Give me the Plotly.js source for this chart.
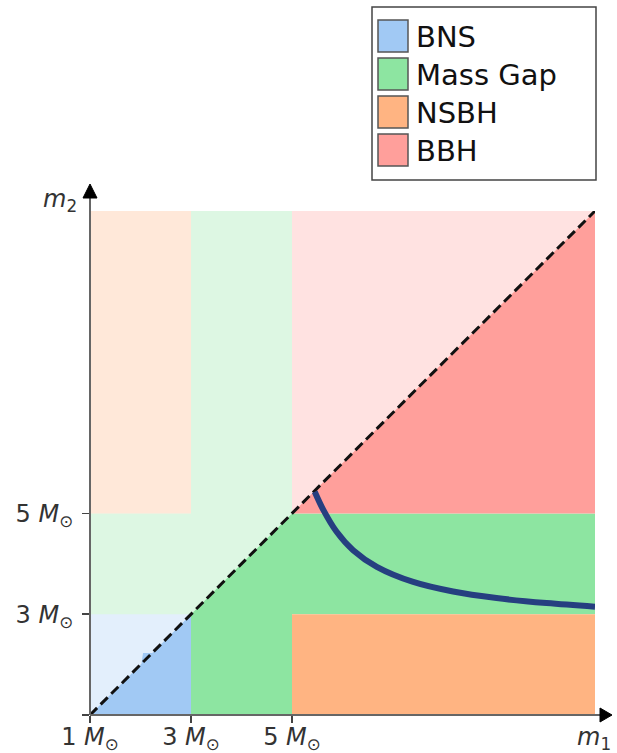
<!DOCTYPE html>
<html>
<head>
<meta charset="utf-8">
<script src="https://cdn.plot.ly/plotly-3.0.1.min.js"></script>
<style>html,body{margin:0;padding:0;background:#fff;}#chart{width:617px;height:753px;}</style>
</head>
<body>
<div id="chart"></div>
<script>
// ---------- data ----------
const categories = ['BNS', 'Mass Gap', 'NSBH', 'BBH'];
const colors = ['#a1c9f4', '#8de5a1', '#ffb482', '#ff9f9b'];
const lightAlpha = 0.3;

// region polygons below the diagonal (m2 <= m1)
const bnsM1 = [1, 3, 3, 2.23, 2.05, 2.02, 1];
const bnsM2 = [1, 1, 3, 2.23, 2.23, 2.02, 1];
const gapM1 = [3, 5, 5, 11, 11, 5, 3, 3];
const gapM2 = [1, 1, 3, 3, 5, 5, 3, 1];
const nsbhM1 = [5, 11, 11, 5, 5];
const nsbhM2 = [1, 1, 3, 3, 1];
const bbhM1 = [5, 11, 11, 5];
const bbhM2 = [5, 5, 11, 5];

// diagonal m1 = m2
const diagM = [1, 11];

// contour curve
const curveM1 = [5.45, 5.62, 5.88, 6.21, 6.68, 7.40, 8.19, 9.05, 10.04, 11.0];
const curveM2 = [5.43, 5.07, 4.64, 4.27, 3.94, 3.64, 3.45, 3.32, 3.22, 3.15];

// ticks
const tickVals = [1, 3, 5];
const xTickText = ['1 <i>M</i><sub>⊙</sub>', '3 <i>M</i><sub>⊙</sub>', '5 <i>M</i><sub>⊙</sub>'];
const yTickText = ['', '3 <i>M</i><sub>⊙</sub>', '5 <i>M</i><sub>⊙</sub>'];

// ---------- build ----------
function rgba(hex, a) {
  const r = parseInt(hex.slice(1, 3), 16), g = parseInt(hex.slice(3, 5), 16), b = parseInt(hex.slice(5, 7), 16);
  return 'rgba(' + r + ',' + g + ',' + b + ',' + a + ')';
}
const regionsX = [bnsM1, gapM1, nsbhM1, bbhM1];
const regionsY = [bnsM2, gapM2, nsbhM2, bbhM2];

const traces = [];
// light mirrored regions (m2 > m1)
categories.forEach((c, i) => {
  traces.push({
    x: regionsY[i], y: regionsX[i], type: 'scatter', mode: 'lines', fill: 'toself',
    fillcolor: rgba(colors[i], lightAlpha), line: {width: 0}, hoverinfo: 'skip', showlegend: false
  });
});
// strong regions
categories.forEach((c, i) => {
  traces.push({
    x: regionsX[i], y: regionsY[i], type: 'scatter', mode: 'lines', fill: 'toself', name: c,
    fillcolor: colors[i], line: {width: 0}, hoverinfo: 'skip', showlegend: false
  });
});
traces.push({
  x: diagM, y: diagM, type: 'scatter', mode: 'lines',
  line: {color: '#111', width: 3, dash: '10px,5px'}, hoverinfo: 'skip', showlegend: false
});
traces.push({
  x: curveM1, y: curveM2, type: 'scatter', mode: 'lines',
  line: {color: '#263f80', width: 6, shape: 'spline'}, hoverinfo: 'skip', showlegend: false
});

const W = 617, H = 753, L = 90, R = 22, T = 211, B = 38;
const PW = W - L - R, PH = H - T - B;
const px = v => (v - L) / PW;
const py = v => (H - B - v) / PH;

const font = {family: 'DejaVu Sans, sans-serif', size: 24, color: '#333'};
const shapes = [];
const annotations = [];

// axis lines with arrow heads
shapes.push({type: 'line', xref: 'paper', yref: 'paper', x0: 0, y0: 0, x1: px(603), y1: 0, line: {color: '#666', width: 2}});
shapes.push({type: 'line', xref: 'paper', yref: 'paper', x0: 0, y0: 0, x1: 0, y1: py(196), line: {color: '#666', width: 2}});
shapes.push({type: 'path', xref: 'paper', yref: 'paper',
  path: 'M' + px(600) + ',' + py(708) + ' L' + px(612) + ',' + py(715) + ' L' + px(600) + ',' + py(722) + ' Z',
  fillcolor: '#000', line: {color: '#000', width: 1}});
shapes.push({type: 'path', xref: 'paper', yref: 'paper',
  path: 'M' + px(83) + ',' + py(198) + ' L' + px(90) + ',' + py(184) + ' L' + px(97) + ',' + py(198) + ' Z',
  fillcolor: '#000', line: {color: '#000', width: 1}});

// axis labels
annotations.push({xref: 'paper', yref: 'paper', x: px(60), y: py(200), text: '<i>m</i><sub>2</sub>',
  showarrow: false, font: font, xanchor: 'center', yanchor: 'middle'});
annotations.push({xref: 'paper', yref: 'paper', x: px(594), y: py(738), text: '<i>m</i><sub>1</sub>',
  showarrow: false, font: font, xanchor: 'center', yanchor: 'middle'});

// legend
shapes.push({type: 'rect', xref: 'paper', yref: 'paper', x0: px(372), x1: px(596), y0: py(180), y1: py(7),
  fillcolor: '#fff', line: {color: '#444', width: 1.5}});
categories.forEach((c, i) => {
  const top = 20 + 38 * i;
  shapes.push({type: 'rect', xref: 'paper', yref: 'paper', x0: px(378), x1: px(408), y0: py(top + 32), y1: py(top),
    fillcolor: colors[i], line: {color: '#555', width: 1.5}});
  annotations.push({xref: 'paper', yref: 'paper', x: px(414), y: py(top + 17), text: c, showarrow: false,
    xanchor: 'left', yanchor: 'middle', font: {family: 'DejaVu Sans, sans-serif', size: 29, color: '#111'}});
});

const layout = {
  width: W, height: H,
  margin: {l: L, r: R, t: T, b: B, pad: 0},
  paper_bgcolor: '#fff', plot_bgcolor: '#fff',
  showlegend: false,
  xaxis: {range: [1, 11], showgrid: false, zeroline: false, showline: false,
    tickmode: 'array', tickvals: tickVals, ticktext: xTickText, ticks: 'outside', ticklen: 7,
    ticklabelstandoff: -7,
    tickwidth: 1.5, tickcolor: '#444', tickfont: font, fixedrange: true},
  yaxis: {range: [1, 11], showgrid: false, zeroline: false, showline: false,
    tickmode: 'array', tickvals: tickVals, ticktext: yTickText, ticks: 'outside', ticklen: 7,
    ticklabelstandoff: 4,
    tickwidth: 1.5, tickcolor: '#444', tickfont: font, fixedrange: true},
  shapes: shapes,
  annotations: annotations
};

Plotly.newPlot('chart', traces, layout, {staticPlot: true, displayModeBar: false});
</script>
</body>
</html>
